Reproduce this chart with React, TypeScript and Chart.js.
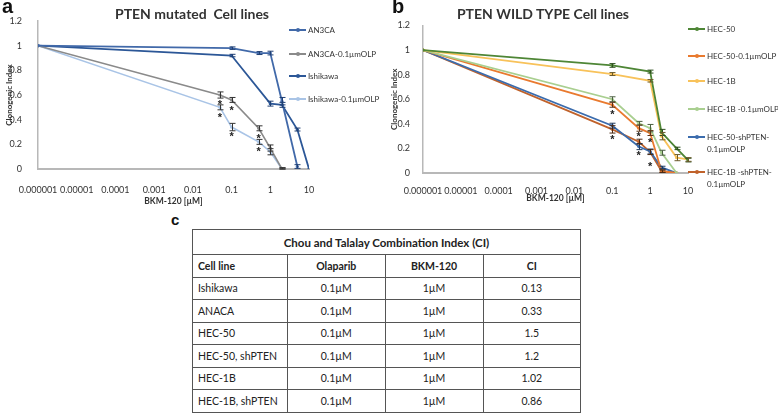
import React, { useEffect, useRef } from 'react';
import { Chart, registerables } from 'chart.js';
Chart.register(...registerables);

// ---------- shared axis data ----------
const xTickValues = [0.000001, 0.00001, 0.0001, 0.001, 0.01, 0.1, 1, 10];
const xTickLabels = ['0.000001', '0.00001', '0.0001', '0.001', '0.01', '0.1', '1', '10'];
const yTickValues = [0, 0.2, 0.4, 0.6, 0.8, 1, 1.2];
const yTickLabels = ['0', '0.2', '0.4', '0.6', '0.8', '1', '1.2'];

// ---------- panel a: PTEN mutated ----------
const aConcAN3CA = [0.000001, 0.1, 0.5, 1, 2, 5];
const an3ca = [1, 0.98, 0.94, 0.94, 0.55, 0.02];
const an3caErr = [0, 0.01, 0.012, 0.015, 0.03, 0.015];
const aConcIshikawa = [0.000001, 0.1, 1, 2, 5, 10];
const ishikawa = [1, 0.92, 0.53, 0.52, 0.32, 0];
const ishikawaErr = [0, 0.01, 0.02, 0.02, 0.012, 0];
const aConcOlp = [0.000001, 0.05, 0.1, 0.5, 1, 2];
const an3caOlp = [1, 0.6, 0.56, 0.33, 0.17, 0];
const an3caOlpErr = [0, 0.025, 0.02, 0.02, 0.025, 0.01];
const ishikawaOlp = [1, 0.5, 0.34, 0.22, 0.14, 0];
const ishikawaOlpErr = [0, 0.02, 0.03, 0.02, 0.025, 0.01];
const aStarX = [0.05, 0.05, 0.1, 0.1, 0.5, 0.5];
const aStarY = [0.545, 0.445, 0.5, 0.29, 0.275, 0.17];

// ---------- panel b: PTEN wild type ----------
const bConcFull = [0.000001, 0.1, 1, 2, 5, 10];
const hec50 = [1, 0.875, 0.825, 0.33, 0.2, 0.105];
const hec50Err = [0, 0.015, 0.012, 0.025, 0.01, 0.015];
const hec1b = [1, 0.805, 0.75, 0.3, 0.125, 0.11];
const hec1bErr = [0, 0.012, 0.01, 0.03, 0.025, 0.015];
const bConcOlp = [0.000001, 0.1, 0.5, 1, 2, 5];
const hec50Olp = [1, 0.555, 0.365, 0.325, 0.015, 0];
const hec50OlpErr = [0, 0.02, 0.025, 0.02, 0.01, 0];
const hec1bOlp = [1, 0.6, 0.405, 0.365, 0.165, 0];
const hec1bOlpErr = [0, 0.02, 0.015, 0.03, 0.02, 0];
const hec50Sh = [1, 0.385, 0.215, 0.175, 0.045, 0];
const hec50ShErr = [0, 0.02, 0.025, 0.02, 0.01, 0];
const hec1bSh = [1, 0.355, 0.255, 0.17, 0.015, 0];
const hec1bShErr = [0, 0.03, 0.02, 0.02, 0.01, 0];
const bStarX = [0.1, 0.1, 0.5, 0.5, 1, 1];
const bStarY = [0.5, 0.3, 0.32, 0.17, 0.27, 0.08];

// ---------- table ----------
const tableTitle = 'Chou and Talalay Combination Index (CI)';
const tableHeaders = ['Cell line', 'Olaparib', 'BKM-120', 'CI'];
const cellLines = ['Ishikawa', 'ANACA', 'HEC-50', 'HEC-50, shPTEN', 'HEC-1B', 'HEC-1B, shPTEN'];
const olaparibDose = ['0.1µM', '0.1µM', '0.1µM', '0.1µM', '0.1µM', '0.1µM'];
const bkmDose = ['1µM', '1µM', '1µM', '1µM', '1µM', '1µM'];
const ciValues = ['0.13', '0.33', '1.5', '1.2', '1.02', '0.86'];

const FONT = 'Lato, "Open Sans", "DejaVu Sans", sans-serif';

function ds(label: string, xs: number[], ys: number[], errs: number[], color: string, errColor: string, width = 1.6) {
  return {
    label,
    data: xs.map((x, i) => ({ x, y: ys[i] })),
    errors: errs,
    errColor,
    borderColor: color,
    backgroundColor: color,
    borderWidth: width,
    pointRadius: 1.6,
    pointHoverRadius: 1.6,
    pointBorderWidth: 0,
    pointBackgroundColor: color,
    tension: 0,
    fill: false,
  };
}

const errorBarPlugin = {
  id: 'errorBars',
  afterDatasetsDraw(chart: any) {
    const ctx = chart.ctx;
    const ys = chart.scales.y;
    chart.data.datasets.forEach((d: any, i: number) => {
      const meta = chart.getDatasetMeta(i);
      if (!d.errors) return;
      ctx.save();
      ctx.strokeStyle = d.errColor || d.borderColor;
      ctx.lineWidth = 1;
      meta.data.forEach((pt: any, j: number) => {
        const e = d.errors[j];
        if (!e) return;
        const v = d.data[j].y;
        const x = Math.round(pt.x) + 0.5;
        const y1 = ys.getPixelForValue(v + e);
        const y2 = ys.getPixelForValue(Math.max(0, v - e));
        ctx.beginPath();
        ctx.moveTo(x, y1); ctx.lineTo(x, y2);
        ctx.moveTo(x - 3, y1); ctx.lineTo(x + 3, y1);
        ctx.moveTo(x - 3, y2); ctx.lineTo(x + 3, y2);
        ctx.stroke();
      });
      ctx.restore();
    });
  },
};

const starPlugin = {
  id: 'stars',
  afterDatasetsDraw(chart: any, _args: any, opts: any) {
    if (!opts || !opts.xs) return;
    const ctx = chart.ctx;
    ctx.save();
    ctx.fillStyle = '#222';
    ctx.font = 'bold 11px Arial, "Liberation Sans", sans-serif';
    ctx.textAlign = 'center';
    ctx.textBaseline = 'alphabetic';
    opts.xs.forEach((xv: number, i: number) => {
      const x = chart.scales.x.getPixelForValue(xv);
      const y = chart.scales.y.getPixelForValue(opts.ys[i]);
      ctx.fillText('*', x, y + 6.5);
    });
    ctx.restore();
  },
};

function makeOptions(p: {
  padRight: number; padTop: number; yWidth: number; xHeight: number;
  yTickPad: number; xTickPad: number; yTitlePad: number; xTitlePad: number;
  starsX: number[]; starsY: number[];
}) {
  return {
    responsive: false,
    animation: false,
    events: [],
    layout: { padding: { left: 0, right: p.padRight, top: p.padTop, bottom: 0 } },
    plugins: {
      legend: { display: false },
      tooltip: { enabled: false },
      title: { display: false },
      stars: { xs: p.starsX, ys: p.starsY },
    },
    scales: {
      x: {
        type: 'logarithmic',
        min: 0.000001,
        max: 10,
        afterBuildTicks: (s: any) => { s.ticks = xTickValues.map((v) => ({ value: v })); },
        afterFit: (s: any) => { s.height = p.xHeight; },
        ticks: {
          autoSkip: false, maxRotation: 0, minRotation: 0,
          callback: (_v: any, i: number) => xTickLabels[i],
          font: { family: FONT, size: 9 }, color: '#333', padding: p.xTickPad,
        },
        grid: { display: false },
        border: { display: true, color: '#b8b8b8', width: 2 },
        title: {
          display: true, text: 'BKM-120 [µM]', color: '#333',
          font: { family: FONT, size: 8.5, weight: 'bold' },
          padding: { top: 0, bottom: p.xTitlePad },
        },
      },
      y: {
        min: 0, max: 1.2,
        afterBuildTicks: (s: any) => { s.ticks = yTickValues.map((v) => ({ value: v })); },
        afterFit: (s: any) => { s.width = p.yWidth; },
        ticks: {
          callback: (_v: any, i: number) => yTickLabels[i],
          font: { family: FONT, size: 9 }, color: '#333', padding: p.yTickPad,
        },
        grid: { display: false },
        border: { display: true, color: '#b8b8b8', width: 1.5 },
        title: {
          display: true, text: 'Clonogenic Index', color: '#333',
          font: { family: FONT, size: 8, weight: 'bold' },
          padding: { top: p.yTitlePad, bottom: 0 },
        },
      },
    },
  };
}

function ChartCanvas({ config, width, height, style }: any) {
  const ref = useRef<HTMLCanvasElement | null>(null);
  useEffect(() => {
    if (!ref.current) return;
    const chart = new Chart(ref.current, config);
    return () => chart.destroy();
  }, []);
  return <canvas ref={ref} width={width} height={height} style={{ position: 'absolute', width, height, ...style }} />;
}

const colA = { an3ca: '#4169a9', ishikawa: '#2c5797', an3caOlp: '#8a8a8a', ishikawaOlp: '#a9c4e6' };
const colB = { hec50: '#4e8636', hec50Olp: '#e97a2f', hec1b: '#f8c25a', hec1bOlp: '#a9cf90', hec50Sh: '#3b6cad', hec1bSh: '#c0622b' };

const configA = {
  type: 'line',
  data: {
    datasets: [
      ds('AN3CA', aConcAN3CA, an3ca, an3caErr, colA.an3ca, '#1f3f73', 1.8),
      ds('AN3CA-0.1µmOLP', aConcOlp, an3caOlp, an3caOlpErr, colA.an3caOlp, '#333', 1.6),
      ds('Ishikawa', aConcIshikawa, ishikawa, ishikawaErr, colA.ishikawa, '#1f3f73', 1.8),
      ds('Ishikawa-0.1µmOLP', aConcOlp, ishikawaOlp, ishikawaOlpErr, colA.ishikawaOlp, '#333', 1.6),
    ],
  },
  options: makeOptions({
    padRight: 81, padTop: 21, yWidth: 38, xHeight: 41,
    yTickPad: 8, xTickPad: 8, yTitlePad: 5, xTitlePad: 4,
    starsX: aStarX, starsY: aStarY,
  }),
  plugins: [errorBarPlugin, starPlugin],
};

const configB = {
  type: 'line',
  data: {
    datasets: [
      ds('HEC-50', bConcFull, hec50, hec50Err, colB.hec50, '#2d4f1e', 1.8),
      ds('HEC-1B', bConcFull, hec1b, hec1bErr, colB.hec1b, '#6b5a2a', 1.8),
      ds('HEC-1B -0.1µmOLP', bConcOlp, hec1bOlp, hec1bOlpErr, colB.hec1bOlp, '#4a5f40', 1.8),
      ds('HEC-50-0.1µmOLP', bConcOlp, hec50Olp, hec50OlpErr, colB.hec50Olp, '#5a3316', 1.8),
      ds('HEC-50-shPTEN-0.1µmOLP', bConcOlp, hec50Sh, hec50ShErr, colB.hec50Sh, '#1f3a5e', 1.8),
      ds('HEC-1B -shPTEN-0.1µmOLP', bConcOlp, hec1bSh, hec1bShErr, colB.hec1bSh, '#4a2812', 1.8),
    ],
  },
  options: makeOptions({
    padRight: 90, padTop: 25.5, yWidth: 33, xHeight: 37,
    yTickPad: 5, xTickPad: 5, yTitlePad: 0, xTitlePad: 7,
    starsX: bStarX, starsY: bStarY,
  }),
  plugins: [errorBarPlugin, starPlugin],
};

function LegendItem({ x, y, color, lines }: { x: number; y: number; color: string; lines: string[] }) {
  return (
    <div style={{ position: 'absolute', left: x, top: y - 6, height: 12 }}>
      <div style={{ position: 'absolute', left: 0, top: 5, width: 17, height: 2, background: color }} />
      <div style={{ position: 'absolute', left: 7, top: 4, width: 4, height: 4, borderRadius: 2, background: color }} />
      <div style={{ position: 'absolute', left: 19, top: 0, whiteSpace: 'nowrap', fontFamily: FONT, fontSize: 8, lineHeight: '12px', color: '#333' }}>
        {lines.map((l, i) => <div key={i}>{l}</div>)}
      </div>
    </div>
  );
}

const legendA = [
  { label: ['AN3CA'], color: colA.an3ca },
  { label: ['AN3CA-0.1µmOLP'], color: colA.an3caOlp },
  { label: ['Ishikawa'], color: colA.ishikawa },
  { label: ['Ishikawa-0.1µmOLP'], color: colA.ishikawaOlp },
];
const legendAY = [30, 54, 76, 99];
const legendB = [
  { label: ['HEC-50'], color: colB.hec50 },
  { label: ['HEC-50-0.1µmOLP'], color: colB.hec50Olp },
  { label: ['HEC-1B'], color: colB.hec1b },
  { label: ['HEC-1B -0.1µmOLP'], color: colB.hec1bOlp },
  { label: ['HEC-50-shPTEN-', '0.1µmOLP'], color: colB.hec50Sh },
  { label: ['HEC-1B -shPTEN-', '0.1µmOLP'], color: colB.hec1bSh },
];
const legendBY = [29, 56, 81, 109, 137, 172];

const colWidths = [95, 97.5, 98, 97.5];

export default function App() {
  const cellBase: React.CSSProperties = {
    borderRight: '1px solid #555', borderBottom: '1px solid #555', boxSizing: 'border-box',
    display: 'flex', alignItems: 'center', justifyContent: 'center', whiteSpace: 'nowrap', padding: '0 5px',
  };
  const left: React.CSSProperties = { ...cellBase, justifyContent: 'flex-start' };
  return (
    <div style={{ position: 'absolute', left: 0, top: 0, width: 778, height: 413, background: '#fff', overflow: 'hidden', fontFamily: FONT }}>
      <ChartCanvas config={configA} width={390} height={210} style={{ left: 0, top: 0 }} />
      <ChartCanvas config={configB} width={388} height={210} style={{ left: 390, top: 0 }} />

      <div style={{ position: 'absolute', left: 2, top: -5, fontFamily: 'Arial, "Liberation Sans", sans-serif', fontWeight: 'bold', fontSize: 20, color: '#111' }}>a</div>
      <div style={{ position: 'absolute', left: 392, top: -5, fontFamily: 'Arial, "Liberation Sans", sans-serif', fontWeight: 'bold', fontSize: 20, color: '#111' }}>b</div>
      <div style={{ position: 'absolute', left: 171, top: 211, fontFamily: 'Arial, "Liberation Sans", sans-serif', fontWeight: 'bold', fontSize: 15, color: '#111' }}>c</div>

      <div style={{ position: 'absolute', left: 192 - 150, top: 5, width: 300, textAlign: 'center', fontFamily: FONT, fontWeight: 'bold', fontSize: 14, color: '#333', whiteSpace: 'pre' }}>PTEN mutated  Cell lines</div>
      <div style={{ position: 'absolute', left: 543 - 150, top: 5, width: 300, textAlign: 'center', fontFamily: FONT, fontWeight: 'bold', fontSize: 14, color: '#333' }}>PTEN WILD TYPE Cell lines</div>

      {legendA.map((l, i) => <LegendItem key={i} x={289} y={legendAY[i]} color={l.color} lines={l.label} />)}
      {legendB.map((l, i) => <LegendItem key={i} x={688} y={legendBY[i]} color={l.color} lines={l.label} />)}

      <div style={{
        position: 'absolute', left: 192, top: 229, display: 'grid',
        gridTemplateColumns: colWidths.map((w) => w + 'px').join(' '),
        gridTemplateRows: '25px repeat(7, 22.5px)',
        borderLeft: '1px solid #555', borderTop: '1px solid #555',
        fontFamily: FONT, fontSize: 10.5, color: '#222',
      }}>
        <div style={{ ...cellBase, gridColumn: '1 / span 4', fontWeight: 'bold', fontSize: 11.5 }}>{tableTitle}</div>
        {tableHeaders.map((h, i) => (
          <div key={'h' + i} style={{ ...(i === 0 ? left : cellBase), fontWeight: 'bold' }}>{h}</div>
        ))}
        {cellLines.map((c, r) => [
          <div key={'c' + r} style={left}>{c}</div>,
          <div key={'o' + r} style={cellBase}>{olaparibDose[r]}</div>,
          <div key={'b' + r} style={cellBase}>{bkmDose[r]}</div>,
          <div key={'i' + r} style={cellBase}>{ciValues[r]}</div>,
        ])}
      </div>
    </div>
  );
}
